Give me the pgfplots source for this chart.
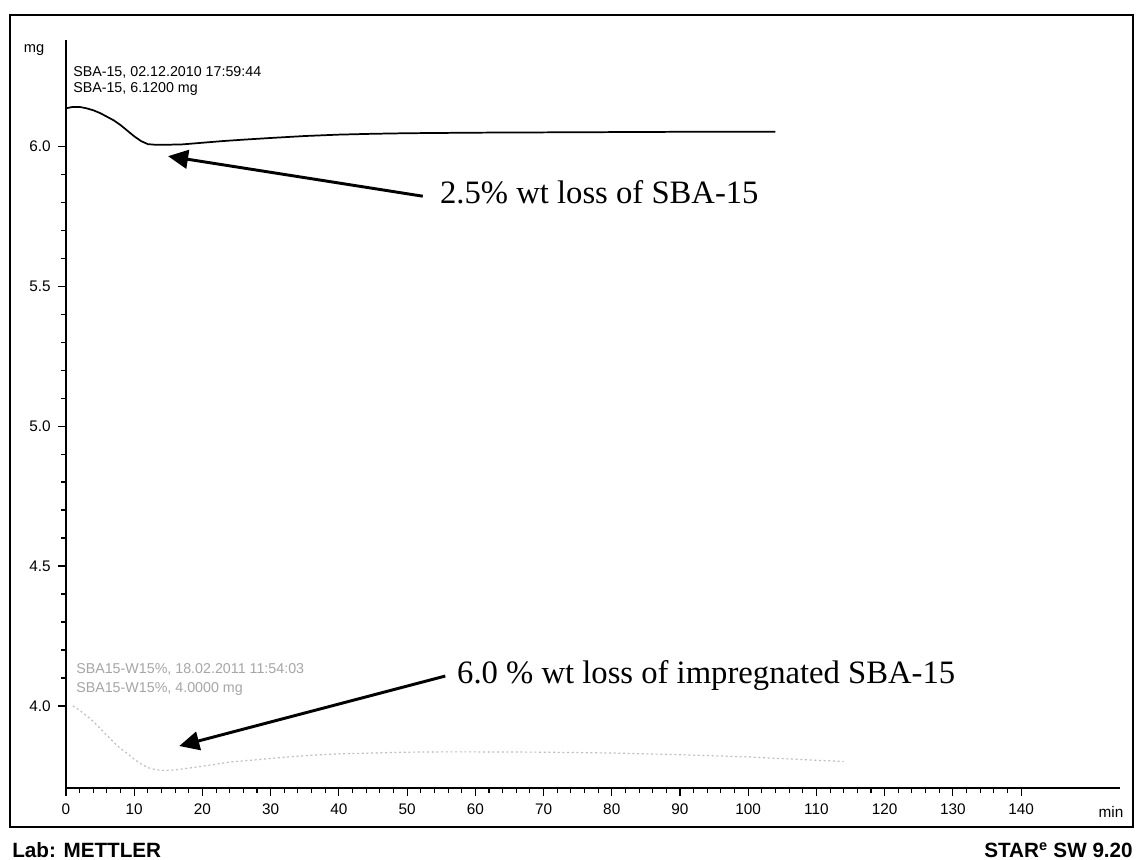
\documentclass[border=0pt]{standalone}
\usepackage{fontspec}
\setmainfont{Liberation Sans}
\newfontfamily\annfont{Liberation Serif}
\usepackage{pgfplots}
\pgfplotsset{compat=1.18}
\usetikzlibrary{arrows.meta}

% TGA curves: sample mass (mg) against time (min)
\pgfplotstableread{
t m
0 6.135
1 6.140
2 6.140
3 6.135
4 6.128
5 6.118
6 6.105
7 6.092
8 6.075
9 6.055
10 6.035
11 6.018
12 6.007
13 6.005
15 6.005
17 6.006
18 6.008
20 6.012
23 6.018
26 6.023
30 6.029
35 6.036
40 6.041
45 6.044
50 6.046
60 6.048
70 6.049
80 6.050
90 6.051
100 6.051
104 6.051
}\sbaplain

\pgfplotstableread{
t m
1 4.000
2 3.985
3 3.965
4 3.945
5 3.920
6 3.895
7 3.870
8 3.848
9 3.830
10 3.810
11 3.793
12 3.780
13 3.773
14 3.770
15 3.770
16 3.772
18 3.778
20 3.785
22 3.792
24 3.800
28 3.808
32 3.817
36 3.824
40 3.829
45 3.832
50 3.835
55 3.836
60 3.836
70 3.835
80 3.832
90 3.826
100 3.818
105 3.812
110 3.806
114 3.802
}\sbaimp

\begin{document}
\begin{tikzpicture}[x=0.75pt,y=-0.75pt]
\path[use as bounding box] (0,0) rectangle (1136,860);
\fill[white] (0,0) rectangle (1136,860);
% outer frame
\draw[line width=1.5pt] (10,15) rectangle (1133,827);

\begin{axis}[
  at={(49.5pt,-591pt)}, anchor=south west,
  scale only axis, width=790.5pt, height=561pt,
  xmin=0, xmax=154.5, ymin=3.707, ymax=6.379,
  axis x line*=bottom, axis y line*=left,
  axis line style={line width=1pt, -},
  xtick={0,10,...,140}, minor x tick num=4,
  ytick={4.0,4.5,5.0,5.5,6.0}, minor y tick num=4,
  tick align=outside,
  major tick length=6pt, minor tick length=3.5pt,
  every tick/.style={black, line width=0.8pt},
  tick label style={font=\fontsize{11.5}{13}\selectfont},
  xticklabel style={yshift=-2.5pt},
  yticklabel style={xshift=-2pt},
  /pgf/number format/assume math mode=true,
  yticklabel={\pgfmathprintnumber[fixed,fixed zerofill,precision=1]{\tick}},
  clip=false,
]
\addplot[black, line width=1.3pt] table[x=t,y=m] {\sbaplain};
\addplot[gray!50, line width=0.9pt, dash pattern=on 1.5pt off 2pt] table[x=t,y=m] {\sbaimp};

% annotations
\draw[line width=2.2pt, -{Triangle[length=15pt,width=14pt]}]
  (axis cs:52.3,5.821) -- (axis cs:14.96,5.964);
\node[anchor=base west, inner sep=0, font=\annfont\fontsize{24.5}{28}\selectfont]
  at (axis cs:54.8,5.796) {2.5\% wt loss of SBA-15};
\draw[line width=2.2pt, -{Triangle[length=15pt,width=14pt]}]
  (axis cs:55.6,4.107) -- (axis cs:16.6,3.857);
\node[anchor=base west, inner sep=0, font=\annfont\fontsize{24.5}{28}\selectfont]
  at (axis cs:57.3,4.079) {6.0 \% wt loss of impregnated SBA-15};
\end{axis}

% unit labels
\node[font=\fontsize{11}{12}\selectfont] at (34,50) {mg};
\node[font=\fontsize{11.5}{13}\selectfont] at (1111,812) {min};

% curve captions
\begin{scope}[every node/.style={anchor=base west, inner sep=0, font=\fontsize{10.7}{12}\selectfont}]
\node at (73,76) {SBA-15, 02.12.2010 17:59:44};
\node at (73,92) {SBA-15, 6.1200 mg};
\node[text=gray!70] at (76,673) {SBA15-W15\%, 18.02.2011 11:54:03};
\node[text=gray!70] at (76,692) {SBA15-W15\%, 4.0000 mg};
\end{scope}

% footer
\node[anchor=base west, inner sep=0, font=\bfseries\fontsize{15.5}{18}\selectfont] at (12,857) {Lab: METTLER};
\node[anchor=base east, inner sep=0, font=\bfseries\fontsize{15.5}{18}\selectfont] at (1133,857) {STAR\textsuperscript{e} SW 9.20};
\end{tikzpicture}
\end{document}
